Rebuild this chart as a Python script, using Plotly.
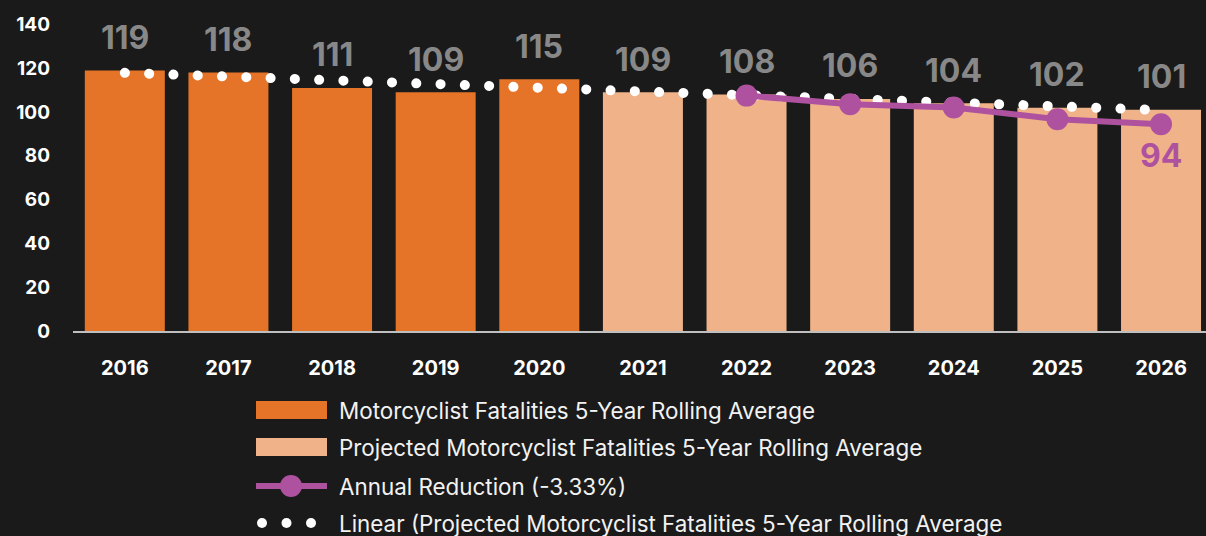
import plotly.graph_objects as go

# data
actual_years = [2016, 2017, 2018, 2019, 2020]
actual_values = [119, 118, 111, 109, 115]
projected_years = [2021, 2022, 2023, 2024, 2025, 2026]
projected_values = [109, 108, 106, 104, 102, 101]
reduction_years = [2022, 2023, 2024, 2025, 2026]
reduction_values = [107.5, 103.6, 102.1, 96.7, 94.4]
trend_years = [2016, 2026]
trend_values = [117.9, 100.9]
y_ticks = [0, 20, 40, 60, 80, 100, 120, 140]

ORANGE = "#E57428"
PEACH = "#F0B389"
PURPLE = "#AE529F"
BG = "#1A1A1A"
FONT = "Inter"

W, H = 1206, 536
L, R, T, B = 73, 0, 10, 205
PW, PH = W - L - R, H - T - B


def px(x):
    return (x - L) / PW


def py(y):
    return (H - B - y) / PH


fig = go.Figure()
fig.add_trace(go.Bar(x=actual_years, y=actual_values, marker_color=ORANGE,
                     marker_line_width=0,
                     name="Motorcyclist Fatalities 5-Year Rolling Average"))
fig.add_trace(go.Bar(x=projected_years, y=projected_values, marker_color=PEACH,
                     marker_line_width=0,
                     name="Projected Motorcyclist Fatalities 5-Year Rolling Average"))
fig.add_trace(go.Scatter(x=trend_years, y=trend_values, mode="lines",
                         line=dict(color="white", width=10, dash="0.1px,24.2px"),
                         name="Linear trend"))
fig.add_trace(go.Scatter(x=reduction_years, y=reduction_values, mode="lines+markers",
                         line=dict(color=PURPLE, width=6),
                         marker=dict(color=PURPLE, size=22),
                         name="Annual Reduction (-3.33%)"))

# value labels
for yr, v in zip(actual_years + projected_years, actual_values + projected_values):
    fig.add_annotation(x=yr, y=v, text=str(v), showarrow=False, yanchor="middle",
                       yshift=33, font=dict(family=FONT, size=32, color="#888888",
                                            weight="bold"))
fig.add_annotation(x=reduction_years[-1], y=reduction_values[-1],
                   text=str(round(reduction_values[-1])), showarrow=False,
                   yanchor="middle", yshift=-31,
                   font=dict(family=FONT, size=32, color=PURPLE, weight="bold"))

# custom legend
legend_font = dict(family=FONT, size=22.4, color="#F2F2F2")
rows = [
    ("Motorcyclist Fatalities 5-Year Rolling Average", 410),
    ("Projected Motorcyclist Fatalities 5-Year Rolling Average", 447),
    ("Annual Reduction (-3.33%)", 486),
    ("Linear (Projected Motorcyclist Fatalities 5-Year Rolling Average", 523),
]
shapes = []
for (label, yc), col in zip(rows[:2], [ORANGE, PEACH]):
    shapes.append(dict(type="rect", xref="paper", yref="paper", x0=px(256), x1=px(327),
                       y0=py(yc - 9), y1=py(yc + 9), fillcolor=col, line_width=0))
yc = rows[2][1]
shapes.append(dict(type="line", xref="paper", yref="paper", x0=px(256), x1=px(327),
                   y0=py(yc), y1=py(yc), line=dict(color=PURPLE, width=6)))
shapes.append(dict(type="circle", xref="paper", yref="paper", x0=px(280), x1=px(302),
                   y0=py(yc - 11), y1=py(yc + 11), fillcolor=PURPLE, line_width=0))
yc = rows[3][1]
for cx in [262, 286.5, 311]:
    shapes.append(dict(type="circle", xref="paper", yref="paper", x0=px(cx - 5), x1=px(cx + 5),
                       y0=py(yc - 5), y1=py(yc + 5), fillcolor="white", line_width=0))
for label, yc in rows:
    fig.add_annotation(xref="paper", yref="paper", x=px(337), y=py(yc), text=label,
                       showarrow=False, xanchor="left", yanchor="middle", font=legend_font)

fig.update_layout(
    width=W, height=H,
    margin=dict(l=L, r=R, t=T, b=B),
    paper_bgcolor=BG, plot_bgcolor=BG,
    barmode="overlay", bargap=0.228,
    showlegend=False,
    shapes=shapes,
    xaxis=dict(range=[2015.5, 2026.434], tickvals=actual_years + projected_years,
               showgrid=False, zeroline=False,
               showline=True, linecolor="#BFBFBF", linewidth=2, ticks="",
               ticklabelstandoff=18,
               tickfont=dict(family=FONT, size=20, color="white", weight="bold")),
    yaxis=dict(range=[0, 146.6], tickvals=y_ticks, showgrid=False, zeroline=False,
               showline=False, ticks="", ticklabelstandoff=22,
               tickfont=dict(family=FONT, size=19, color="white", weight="bold")),
)

post = """
document.body.style.margin = '0';
document.body.style.overflow = 'hidden';
var gd = document.getElementById('{plot_id}');
var tr = gd.querySelectorAll('.scatterlayer .trace');
if (tr.length) { tr[0].querySelectorAll('path.js-line').forEach(function(p){
  p.style.strokeLinecap = 'round'; }); }
"""
fig.write_html("out.html", post_script=post, config={"displayModeBar": False})
